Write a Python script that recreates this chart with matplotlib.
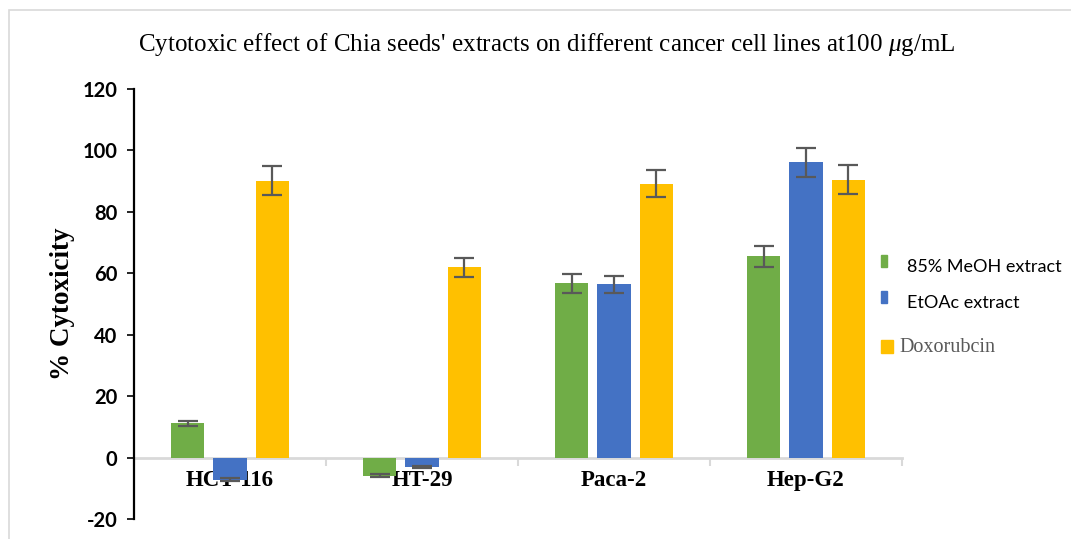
import numpy as np
import matplotlib
matplotlib.use("Agg")
import matplotlib.pyplot as plt
from matplotlib.patches import Rectangle

plt.rcParams['mathtext.fontset'] = 'custom'
plt.rcParams['mathtext.rm'] = 'Liberation Serif'
plt.rcParams['mathtext.it'] = 'Liberation Serif:italic'

categories = ["HCT-116", "HT-29", "Paca-2", "Hep-G2"]
series_names = ["85% MeOH extract", "EtOAc extract", "Doxorubcin"]
meoh = [11.1, -5.9, 56.7, 65.5]
meoh_err = [0.7, 0.4, 3.0, 3.4]
etoac = [-7.2, -3.0, 56.4, 96.1]
etoac_err = [0.5, 0.4, 2.8, 4.7]
doxo = [90.2, 61.9, 89.2, 90.5]
doxo_err = [4.8, 3.2, 4.4, 4.7]
yticks = [-20, 0, 20, 40, 60, 80, 100, 120]
colors = ["#70AD47", "#4472C4", "#FFC000"]

W, H = 1071, 539
fig = plt.figure(figsize=(W / 100, H / 100), dpi=100)
fig.patches.append(Rectangle((9 / W, -0.1), 1.2, (H - 10) / H + 0.1, transform=fig.transFigure,
                             fill=False, edgecolor="#d9d9d9", lw=1.2))

ax = fig.add_axes([134 / W, (H - 519) / H, (902 - 134) / W, (519 - 89) / H])
x = np.arange(len(categories))
width = 0.172
step = 0.219
data = [(meoh, meoh_err), (etoac, etoac_err), (doxo, doxo_err)]
for i, ((vals, errs), c) in enumerate(zip(data, colors)):
    ax.bar(x + (i - 1) * step, vals, width, color=c, zorder=2,
           yerr=errs, error_kw=dict(ecolor="#595959", elinewidth=1.6, capsize=7, capthick=1.6, zorder=3))

ax.set_xlim(-0.5, len(categories) - 0.5)
ax.set_ylim(-20, 120)
ax.set_yticks(yticks)
ax.set_yticklabels([str(v) for v in yticks], fontfamily="Lato", fontweight="bold", fontsize=14.5)
ax.tick_params(axis="y", direction="out", length=5, width=1.2, color="black", pad=7)

for s in ["top", "right"]:
    ax.spines[s].set_visible(False)
ax.spines["left"].set_color("black")
ax.spines["left"].set_linewidth(1.6)
ax.spines["bottom"].set_position(("data", 0))
ax.spines["bottom"].set_color("#d9d9d9")
ax.spines["bottom"].set_linewidth(2)
ax.spines["bottom"].set_zorder(1)

ax.set_xticks(np.arange(len(categories) + 1) - 0.5)
ax.set_xticklabels([])
ax.tick_params(axis="x", which="major", direction="out", length=6, width=1.5, color="#d9d9d9")
ax.set_xticks(x, minor=True)
ax.set_xticklabels(categories, minor=True, fontfamily="Liberation Serif", fontweight="bold", fontsize=16.5)
ax.tick_params(axis="x", which="minor", length=0, pad=9)
for lbl in ax.get_xticklabels(minor=True):
    lbl.set_zorder(5)

ax.set_ylabel("% Cytoxicity", fontfamily="Liberation Serif", fontweight="bold", fontsize=19.5)
ax.yaxis.set_label_coords(-0.077, 0.5)

fig.text(547 / W, (H - 45) / H,
         r"Cytotoxic effect of Chia seeds' extracts on different cancer cell lines at100 $\mu$g/mL",
         ha="center", va="center", fontfamily="Liberation Serif", fontsize=18)

# legend (manual, positioned in figure pixels)
leg_y = [267, 303, 347]
marker_w = [6, 6, 12]
for name, c, yy, mw in zip(series_names, colors, leg_y, marker_w):
    if mw == 6:
        fig.patches.append(Rectangle((881 / W, (H - yy) / H), mw / W, 12 / H,
                                     transform=fig.transFigure, color=c))
        fig.text(907 / W, (H - yy) / H, name, ha="left", va="center",
                 fontfamily="Lato", fontsize=13, color="black")
    else:
        fig.patches.append(Rectangle((881 / W, (H - yy - 6) / H), mw / W, 13 / H,
                                     transform=fig.transFigure, color=c))
        fig.text(899 / W, (H - yy) / H, name, ha="left", va="center",
                 fontfamily="Liberation Serif", fontsize=14.5, color="#595959")

fig.savefig("out.png", dpi=100)
